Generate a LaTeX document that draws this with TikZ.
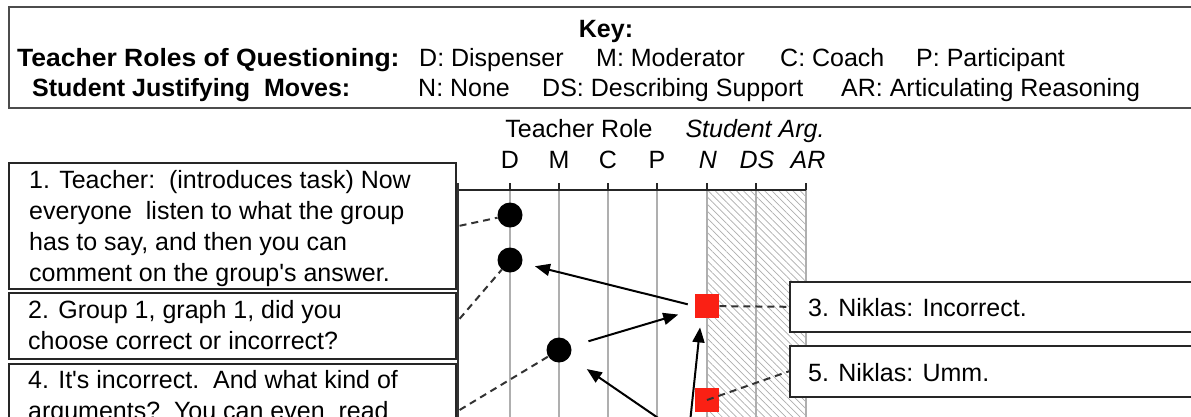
\documentclass[tikz,border=0pt]{standalone}
\usepackage{fontspec}
\setmainfont{Liberation Sans}
\usetikzlibrary{arrows.meta,patterns.meta,calc}
\definecolor{sqred}{RGB}{250,32,20}
\definecolor{gridgray}{RGB}{175,175,175}
\begin{document}
\begin{tikzpicture}[x=1pt,y=-1pt,
  txt/.style={inner sep=0pt, anchor=base west, font=\fontsize{25}{31}\selectfont},
  bold/.style={inner sep=0pt, anchor=base west, font=\fontsize{25}{31}\selectfont\bfseries},
  hdr/.style={inner sep=0pt, anchor=base, font=\fontsize{25}{31}\selectfont},
  hdri/.style={inner sep=0pt, anchor=base, font=\fontsize{25}{31}\selectfont\itshape},
  box/.style={draw=black!85, line width=1.6pt, fill=white, inner sep=0pt, anchor=north west},
  dot/.style={circle, fill=black, minimum size=25pt, inner sep=0pt},
  sq/.style={fill=sqred, minimum size=24.5pt, inner sep=0pt},
  dashline/.style={draw=black!80, line width=2pt, dash pattern=on 7pt off 5pt},
  arr/.style={draw=black, line width=2pt, -{Triangle[length=15pt,width=12pt]}},
  gridln/.style={draw=gridgray, line width=1.8pt},
]
\useasboundingbox (0,0) rectangle (1191,416);
\clip (0,0) rectangle (1191,416);

% Key box
\node[box, draw=black!70, minimum width=1200pt, minimum height=101pt] (keybox) at (8,6) {};
\node[hdr, font=\fontsize{25}{31}\selectfont\bfseries] (keyt) at (606,37) {Key:};
\node[bold, font=\fontsize{25}{31}\selectfont\bfseries\addfontfeatures{FakeStretch=1.06}] (k1) at (17,66) {Teacher Roles of Questioning:};
\node[txt] (k1a) at (419,66) {D: Dispenser};
\node[txt] (k1b) at (596,66) {M: Moderator};
\node[txt] (k1c) at (780,66) {C: Coach};
\node[txt] (k1d) at (916,66) {P: Participant};
\node[bold] (k2) at (32,96) {Student Justifying\ \ Moves:};
\node[txt] (k2a) at (418,96) {N: None};
\node[txt] (k2b) at (542,96) {DS: Describing Support};
\node[txt] (k2c) at (841,96) {AR: Articulating Reasoning};

% plot area
\fill[pattern={Lines[angle=-45,distance=5pt,line width=0.7pt]}, pattern color=black!32] (707,190) rectangle (806,430);
\foreach \x in {510,559,608,657,707,756,806} \draw[gridln] (\x,190) -- (\x,430);
\foreach \x in {458,510,559,608,657,707,756,806} \draw[black!85, line width=1.5pt] (\x,183) -- (\x,190);
\draw[black!85, line width=1.5pt] (458,190) -- (806,190);
\draw[black!80, line width=1.6pt] (458,183) -- (458,430);

% headers
\node[hdr] (hT) at (579,137) {Teacher\ Role};
\node[hdri] (hS) at (755,137) {Student Arg.};
\node[hdr] (hD) at (510,168) {D};
\node[hdr] (hM) at (559,168) {M};
\node[hdr] (hC) at (608,168) {C};
\node[hdr] (hP) at (657,168) {P};
\node[hdri] (hN) at (708,168) {N};
\node[hdri] (hDS) at (757,168) {DS};
\node[hdri] (hAR) at (808,168) {AR};

% left boxes
\node[box, minimum width=447pt, minimum height=126pt] (box1) at (8,162) {};
\node[txt] (t1a) at (29,188) {1. Teacher:\ \ (introduces task) Now};
\node[txt] (t1b) at (29,219) {everyone\ \ listen to what the group};
\node[txt] (t1c) at (29,250) {has to say, and then you can};
\node[txt] (t1d) at (29,281) {comment on the group\textquotesingle s answer.};

\node[box, minimum width=447pt, minimum height=66pt] (box2) at (8,292) {};
\node[txt] (t2a) at (28,318) {2. Group 1, graph 1, did you};
\node[txt] (t2b) at (28,349) {choose correct or incorrect?};

\node[box, minimum width=447pt, minimum height=126pt] (box4) at (8,363) {};
\node[txt] (t4a) at (28,388) {4. It\textquotesingle s incorrect.\ \ And what kind of};
\node[txt] (t4b) at (28,419) {arguments?\ \ You can even\ \ read};

% right boxes
\node[box, minimum width=450pt, minimum height=50pt] (box3) at (789,281) {};
\node[txt] (t3) at (808,316) {3. Niklas: Incorrect.};
\node[box, minimum width=450pt, minimum height=51pt] (box5) at (789,345) {};
\node[txt] (t5) at (808,381) {5. Niklas: Umm.};

% markers
\node[dot] (c1) at (510,215) {};
\node[dot] (c2) at (510,260) {};
\node[dot] (c4) at (559,350) {};
\node[sq] (s3) at (707,306) {};
\node[sq] (s5) at (707,400) {};

% dashed links
\draw[dashline] ($(box1.east)+(3,0)$) -- (c1);
\draw[dashline] ($(box2.east)+(3,-7)$) -- (c2);
\draw[dashline] ($(box4.north east)+(3,47)$) -- (c4);
\draw[dashline] (s3) -- (box3.west);
\draw[dashline] (s5.center) -- (box5.west);

% arrows
\coordinate (src6) at (685,470);
\coordinate (src7) at (734,470);
\draw[arr, shorten <=7pt, shorten >=13pt] (s3.west) -- (c2);
\draw[arr, shorten <=18pt, shorten >=17pt] (c4) -- (s3);
\draw[arr, shorten >=9pt] (src6) -- ($(s3.south)+(-6,0)$);
\draw[arr, shorten >=21pt] (src7) -- (c4);
\end{tikzpicture}
\end{document}
